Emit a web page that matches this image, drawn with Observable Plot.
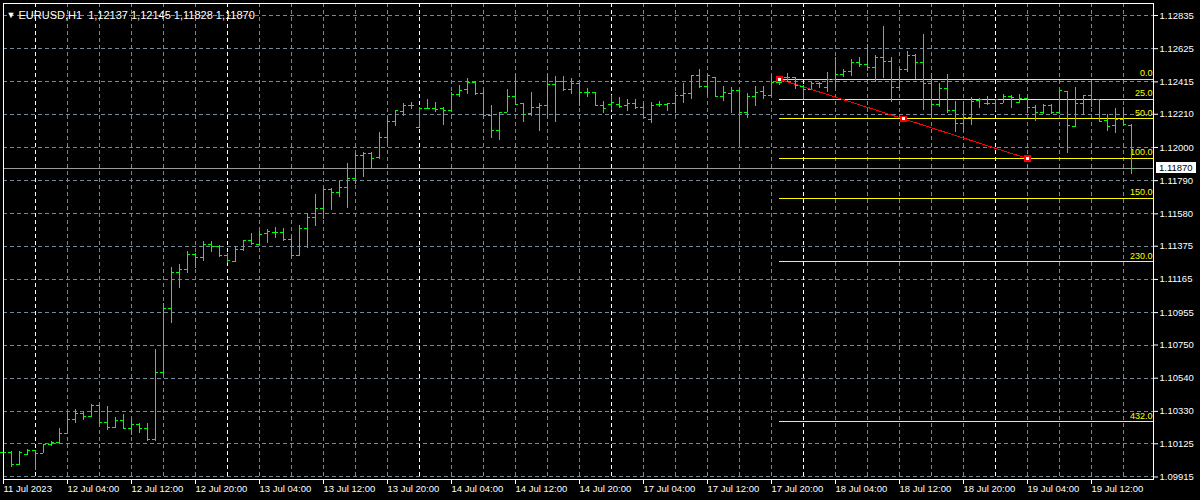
<!DOCTYPE html>
<html><head><meta charset="utf-8">
<script src="https://cdn.jsdelivr.net/npm/d3@7"></script>
<script src="https://cdn.jsdelivr.net/npm/@observablehq/plot@0.6"></script>
<style>
html,body{margin:0;padding:0;background:#000;}
#chart{position:relative;width:1200px;height:500px;overflow:hidden;}
#pricebox{position:absolute;background:#fff;color:#000;font:9.5px 'Liberation Sans',Arial,sans-serif;line-height:11px;height:11px;padding:0 3px;}
</style></head><body><div id="chart"></div>
<script>
const titleText = "EURUSD,H1\u00a0\u00a01,12137 1,12145 1,11828 1,11870";
const openP = [1.10070,1.10072,1.09993,1.10057,1.10081,1.10062,1.10121,1.10135,1.10192,1.10277,1.10315,1.10298,1.10367,1.10262,1.10227,1.10273,1.10224,1.10248,1.10220,1.10150,
1.10578,1.10979,1.11207,1.11226,1.11323,1.11302,1.11385,1.11374,1.11317,1.11279,1.11352,1.11410,1.11385,1.11458,1.11460,1.11460,1.11417,1.11317,1.11485,1.11555,
1.11612,1.11732,1.11717,1.11749,1.11802,1.11947,1.11960,1.11935,1.12061,1.12163,1.12226,1.12266,1.12125,1.12245,1.12248,1.12245,1.12232,1.12335,1.12365,1.12413,
1.12340,1.12202,1.12106,1.12219,1.12323,1.12280,1.12213,1.12251,1.12266,1.12399,1.12419,1.12365,1.12403,1.12346,1.12346,1.12266,1.12270,1.12272,1.12266,1.12276,
1.12255,1.12175,1.12272,1.12272,1.12276,1.12329,1.12340,1.12455,1.12386,1.12441,1.12323,1.12340,1.12361,1.12223,1.12323,1.12356,1.12329,1.12411,1.12441,1.12441,
1.12386,1.12365,1.12403,1.12378,1.12428,1.12460,1.12481,1.12540,1.12523,1.12508,1.12567,1.12546,1.12378,1.12492,1.12582,1.12540,1.12403,1.12270,1.12371,1.12234,
1.12150,1.12192,1.12297,1.12276,1.12276,1.12276,1.12323,1.12283,1.12312,1.12255,1.12219,1.12266,1.12223,1.12356,1.12133,1.12276,1.12329,1.12302,1.12171,1.12139,
1.12175,1.12137];
const highP = [1.10093,1.10075,1.10075,1.10087,1.10085,1.10121,1.10142,1.10220,1.10332,1.10340,1.10325,1.10372,1.10372,1.10361,1.10294,1.10309,1.10277,1.10252,1.10252,1.10722,
1.11011,1.11243,1.11260,1.11342,1.11327,1.11406,1.11406,1.11380,1.11327,1.11374,1.11412,1.11458,1.11471,1.11481,1.11492,1.11485,1.11437,1.11506,1.11580,1.11703,
1.11749,1.11739,1.11787,1.11897,1.11964,1.11966,1.11966,1.12097,1.12196,1.12234,1.12280,1.12285,1.12255,1.12304,1.12285,1.12253,1.12346,1.12392,1.12435,1.12417,
1.12361,1.12266,1.12219,1.12367,1.12462,1.12280,1.12348,1.12280,1.12462,1.12449,1.12449,1.12435,1.12403,1.12371,1.12346,1.12293,1.12329,1.12318,1.12302,1.12302,
1.12280,1.12283,1.12289,1.12280,1.12346,1.12403,1.12455,1.12492,1.12462,1.12441,1.12386,1.12378,1.12365,1.12343,1.12386,1.12386,1.12455,1.12432,1.12466,1.12441,
1.12392,1.12413,1.12413,1.12473,1.12571,1.12492,1.12555,1.12567,1.12652,1.12582,1.12765,1.12567,1.12498,1.12607,1.12588,1.12715,1.12466,1.12407,1.12462,1.12293,
1.12291,1.12318,1.12308,1.12323,1.12302,1.12335,1.12329,1.12335,1.12318,1.12266,1.12272,1.12270,1.12361,1.12356,1.12378,1.12329,1.12419,1.12302,1.12207,1.12245,
1.12255,1.12145];
const lowP = [1.10016,1.09978,1.09990,1.10051,1.09956,1.10062,1.10108,1.10121,1.10188,1.10252,1.10273,1.10294,1.10262,1.10209,1.10220,1.10220,1.10178,1.10188,1.10140,1.10140,
1.10557,1.10888,1.11109,1.11205,1.11233,1.11281,1.11337,1.11306,1.11264,1.11274,1.11344,1.11380,1.11374,1.11391,1.11426,1.11408,1.11300,1.11312,1.11363,1.11502,
1.11544,1.11601,1.11685,1.11616,1.11766,1.11808,1.11865,1.11922,1.12027,1.12135,1.12196,1.12240,1.12122,1.12238,1.12219,1.12139,1.12223,1.12318,1.12335,1.12331,
1.12179,1.12059,1.12044,1.12219,1.12266,1.12160,1.12198,1.12103,1.12177,1.12160,1.12356,1.12333,1.12259,1.12318,1.12266,1.12217,1.12234,1.12245,1.12230,1.12238,
1.12182,1.12150,1.12251,1.12230,1.12217,1.12276,1.12302,1.12371,1.12329,1.12314,1.12293,1.12213,1.12027,1.12182,1.12261,1.12304,1.12323,1.12392,1.12413,1.12367,
1.12304,1.12365,1.12371,1.12346,1.12371,1.12441,1.12451,1.12508,1.12483,1.12413,1.12435,1.12287,1.12371,1.12473,1.12428,1.12234,1.12175,1.12251,1.12213,1.12097,
1.12097,1.12139,1.12249,1.12266,1.12230,1.12276,1.12249,1.12276,1.12217,1.12166,1.12207,1.12207,1.12209,1.11964,1.12128,1.12202,1.12255,1.12160,1.12103,1.12090,
1.12139,1.11828];
const closeP = [1.10072,1.09993,1.10072,1.10083,1.10062,1.10121,1.10135,1.10192,1.10277,1.10315,1.10298,1.10367,1.10262,1.10227,1.10273,1.10224,1.10248,1.10220,1.10150,1.10578,
1.10979,1.11207,1.11226,1.11323,1.11302,1.11385,1.11374,1.11317,1.11285,1.11352,1.11410,1.11391,1.11450,1.11468,1.11460,1.11417,1.11317,1.11485,1.11555,1.11612,
1.11732,1.11717,1.11745,1.11802,1.11947,1.11960,1.11928,1.12061,1.12163,1.12232,1.12266,1.12266,1.12248,1.12248,1.12238,1.12232,1.12335,1.12361,1.12413,1.12340,
1.12202,1.12106,1.12219,1.12323,1.12270,1.12209,1.12255,1.12266,1.12399,1.12419,1.12365,1.12403,1.12346,1.12346,1.12266,1.12245,1.12283,1.12259,1.12276,1.12251,
1.12188,1.12266,1.12272,1.12276,1.12329,1.12340,1.12455,1.12386,1.12455,1.12323,1.12346,1.12361,1.12219,1.12323,1.12350,1.12329,1.12411,1.12411,1.12441,1.12392,
1.12365,1.12403,1.12403,1.12428,1.12460,1.12481,1.12540,1.12523,1.12504,1.12567,1.12546,1.12378,1.12492,1.12582,1.12536,1.12403,1.12270,1.12371,1.12234,1.12150,
1.12192,1.12293,1.12302,1.12276,1.12302,1.12323,1.12318,1.12312,1.12255,1.12219,1.12266,1.12223,1.12361,1.12139,1.12276,1.12329,1.12302,1.12164,1.12135,1.12175,
1.12145,1.11870];
const xTickBars = [0,8,16,24,32,40,48,56,64,72,80,88,96,104,112,120,128,136];
const xTickLabels = ["11 Jul 2023","12 Jul 04:00","12 Jul 12:00","12 Jul 20:00","13 Jul 04:00","13 Jul 12:00","13 Jul 20:00","14 Jul 04:00","14 Jul 12:00","14 Jul 20:00","17 Jul 04:00","17 Jul 12:00","17 Jul 20:00","18 Jul 04:00","18 Jul 12:00","18 Jul 20:00","19 Jul 04:00","19 Jul 12:00"];
const yTicks = [1.12835,1.12625,1.12415,1.12210,1.12000,1.11790,1.11580,1.11375,1.11165,1.10955,1.10750,1.10540,1.10330,1.10125,1.09915];
const gridBars = [0,4,8,12,16,20,24,28,32,36,40,44,48,52,56,60,64,68,72,76,80,84,88,92,96,100,104,108,112,116,120,124,128,132,136,140];
const daySeparatorBars = [4,28,52,76,100,124];
const fibLevels = [0,25,50,100,150,230,432];
const fibStartBar = 97, fibStartPrice = 1.12432;
const fibEndBar = 128, fibEndPrice = 1.11930;
const xDomain = [0, 143.75];
const yDomain = [1.09899, 1.12911];

const bars = openP.map((o, i) => ({i, o, h: highP[i], l: lowP[i], c: closeP[i]}));
const lastClose = closeP[closeP.length - 1];
const fib = fibLevels.map(l => ({label: l.toFixed(1), price: fibStartPrice - (fibStartPrice - fibEndPrice) * l / 100}));
const labelOf = new Map(xTickBars.map((b, k) => [b, xTickLabels[k]]));
const dash = "4,3";
const green = "#00ff00";
const crisp = {shapeRendering: "crispEdges"};

const chart = Plot.plot({
  width: 1200, height: 500,
  marginLeft: 3, marginRight: 47, marginTop: 3, marginBottom: 21,
  style: {background: "#000", color: "#fff", fontFamily: "'Liberation Sans', Arial, sans-serif", fontSize: "9.5px", overflow: "visible"},
  x: {type: "linear", domain: xDomain, axis: null},
  y: {type: "linear", domain: yDomain, axis: null},
  marks: [
    Plot.ruleY(yTicks, {stroke: "#778899", strokeDasharray: dash, ...crisp}),
    Plot.ruleX(gridBars.filter(b => !daySeparatorBars.includes(b)), {stroke: "#778899", strokeDasharray: dash, ...crisp}),
    Plot.ruleX(daySeparatorBars, {stroke: "#ffffff", strokeDasharray: dash, ...crisp}),
    Plot.ruleY([lastClose], {stroke: "#9a9a9a", ...crisp}),
    Plot.ruleY(fib, {y: "price", x1: fibStartBar, x2: xDomain[1], stroke: "#ffff00", ...crisp}),
    Plot.text(fib, {x: xDomain[1], y: "price", text: "label", textAnchor: "end", dx: -1, dy: -6, fill: "#ffff00", fontSize: 9}),
    Plot.link([{x1: fibStartBar, y1: fibStartPrice, x2: fibEndBar, y2: fibEndPrice}], {x1: "x1", y1: "y1", x2: "x2", y2: "y2", stroke: "#ff0000", ...crisp}),
    Plot.ruleX(bars, {x: "i", y1: "l", y2: "h", stroke: green, ...crisp}),
    Plot.ruleY(bars, {y: "o", x1: d => d.i - 0.375, x2: "i", stroke: green, ...crisp}),
    Plot.ruleY(bars, {y: "c", x1: "i", x2: d => d.i + 0.375, stroke: green, ...crisp}),
    Plot.dot([{b: fibStartBar, p: fibStartPrice}, {b: (fibStartBar + fibEndBar) / 2, p: (fibStartPrice + fibEndPrice) / 2}, {b: fibEndBar, p: fibEndPrice}],
      {x: "b", y: "p", symbol: "square", r: 2.6, fill: "#ffffff", stroke: "#ff0000", strokeWidth: 1.5, ...crisp}),
    Plot.frame({stroke: "#ffffff", ...crisp}),
    Plot.axisY(yTicks, {anchor: "right", tickSize: 4, tickPadding: 2, tickFormat: d => d.toFixed(5), stroke: "#ffffff", fill: "#ffffff"}),
    Plot.axisX(xTickBars, {anchor: "bottom", tickSize: 5, tickPadding: 1, textAnchor: "start", tickFormat: d => labelOf.get(d), stroke: "#ffffff", fill: "#ffffff"}),
    Plot.text([titleText], {frameAnchor: "top-left", dx: 15, dy: 8, text: d => d, fill: "#ffffff", fontSize: 11, textAnchor: "start"}),
    Plot.text(["\u25BC"], {frameAnchor: "top-left", dx: 3, dy: 8, text: d => d, fill: "#ffffff", fontSize: 9, textAnchor: "start"})
  ]
});
const holder = document.getElementById("chart");
holder.appendChild(chart);
const yPix = chart.scale("y").apply(lastClose);
const box = document.createElement("div");
box.id = "pricebox";
box.textContent = lastClose.toFixed(5);
box.style.left = (1200 - 47 + 3) + "px";
box.style.top = (yPix - 5.5) + "px";
holder.appendChild(box);
</script></body></html>
